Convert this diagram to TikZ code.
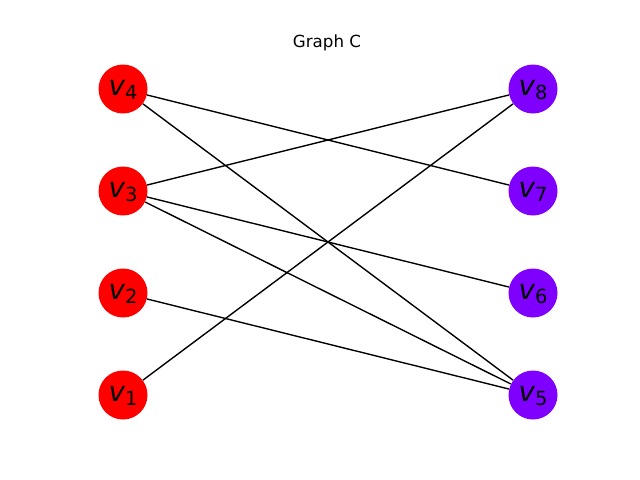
\documentclass[tikz,border=0pt]{standalone}
\usepackage{fontspec}
\setmainfont{DejaVu Sans}
\definecolor{nred}{HTML}{FF0000}
\definecolor{npurple}{HTML}{8000FF}
\newlength{\unitpx}
\setlength{\unitpx}{0.72pt}
\newcommand{\vlab}[1]{{\fontsize{20}{24}\selectfont\itshape v}\smash{\raisebox{-2.9pt}{\fontsize{14}{16}\selectfont #1}}}
\tikzset{
  vnode/.style={circle, minimum size=49\unitpx, inner sep=0pt, text=black, text depth=1.3pt},
  vred/.style={vnode, fill=nred},
  vpur/.style={vnode, fill=npurple},
  edge/.style={line width=1pt, black}
}
\begin{document}
\begin{tikzpicture}[x=0.72pt, y=-0.72pt]
\useasboundingbox (0,0) rectangle (640,480);
\node (title) at (327,43) {\fontsize{12}{14}\selectfont Graph C};
\node[vred] (v4) at (123,89) {\vlab{4}};
\node[vred] (v3) at (123,191) {\vlab{3}};
\node[vred] (v2) at (123,293) {\vlab{2}};
\node[vred] (v1) at (123,395) {\vlab{1}};
\node[vpur] (v8) at (533,89) {\vlab{8}};
\node[vpur] (v7) at (533,191) {\vlab{7}};
\node[vpur] (v6) at (533,293) {\vlab{6}};
\node[vpur] (v5) at (533,395) {\vlab{5}};
\draw[edge] (v4) -- (v7);
\draw[edge] (v4) -- (v5);
\draw[edge] (v3) -- (v8);
\draw[edge] (v3) -- (v6);
\draw[edge] (v3) -- (v5);
\draw[edge] (v2) -- (v5);
\draw[edge] (v1) -- (v8);
\end{tikzpicture}
\end{document}
